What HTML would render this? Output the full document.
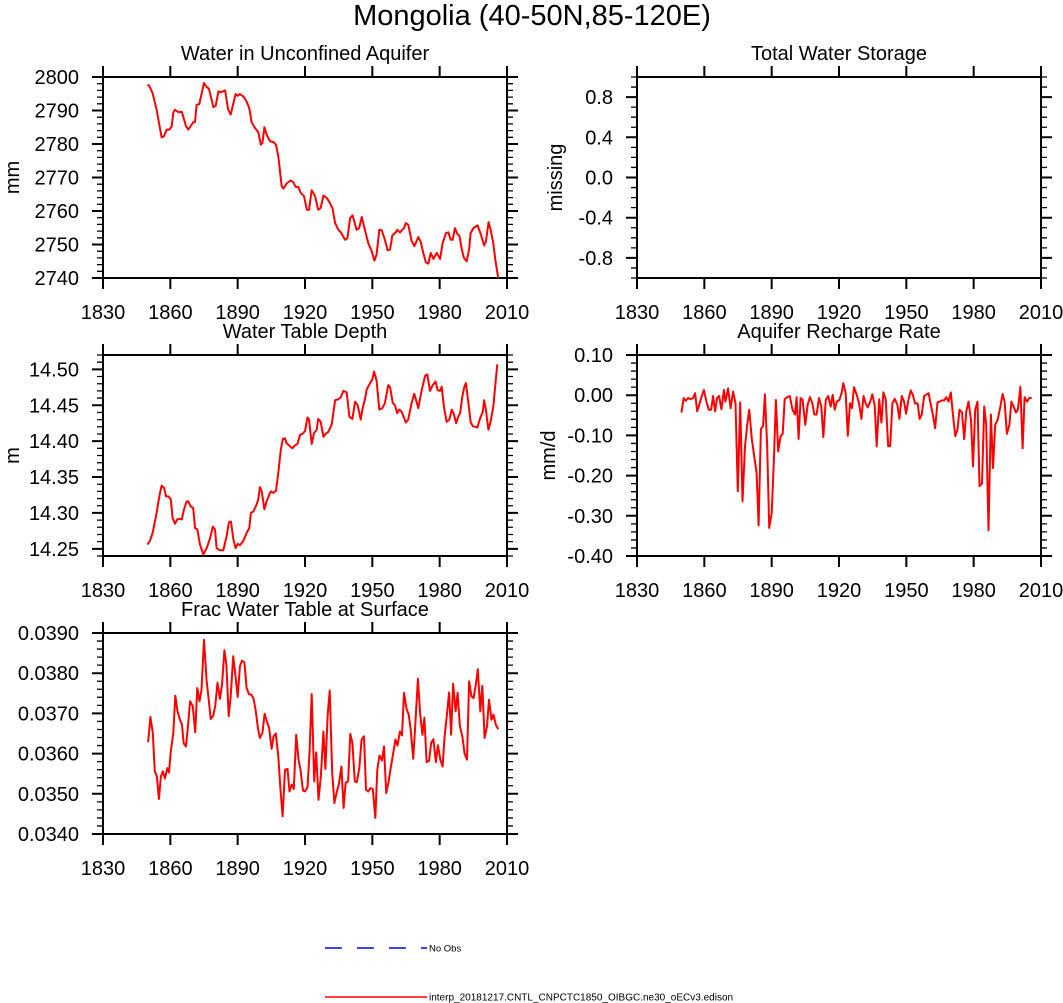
<!DOCTYPE html>
<html><head><meta charset="utf-8"><style>
html,body{margin:0;padding:0;background:#fff;width:1063px;height:1003px;overflow:hidden}
svg{display:block;font-family:"Liberation Sans",Arial,sans-serif}
</style></head><body>
<svg id="chart" width="1063" height="1003" viewBox="0 0 1063 1003" xmlns="http://www.w3.org/2000/svg">
<text x="532" y="25" font-size="29" text-anchor="middle">Mongolia (40-50N,85-120E)</text>
<g>
<line x1="325" y1="948" x2="427" y2="948" stroke="#0000ff" stroke-width="1.5" stroke-dasharray="17,15"/>
<text x="429" y="951.5" font-size="9.5">No Obs</text>
<line x1="325" y1="997" x2="427" y2="997" stroke="#ff0000" stroke-width="1.5"/>
<text x="429" y="1000.5" font-size="10">interp_20181217.CNTL_CNPCTC1850_OIBGC.ne30_oECv3.edison</text>
</g>
</svg>
<script>
// ---- data ----
const xTicks = [1830,1860,1890,1920,1950,1980,2010];

const aqYears = [1849.8,1850.6,1852.1,1853.9,1856.1,1857.2,1858.4,1859.6,1860.6,1861.3,1862.1,1863.6,1865.1,1867.0,1868.0,1869.5,1870.2,1871.0,1871.7,1872.9,1875.0,1876.2,1877.2,1879.2,1880.2,1881.4,1882.4,1884.4,1885.8,1886.9,1888.1,1889.1,1890.0,1891.0,1892.5,1894.0,1895.2,1896.2,1897.7,1899.2,1900.3,1901.0,1901.9,1902.9,1904.4,1905.9,1907.1,1908.1,1909.6,1910.4,1911.8,1913.6,1914.8,1915.8,1917.0,1918.1,1919.6,1920.8,1921.8,1923.0,1924.5,1925.9,1927.0,1928.2,1929.7,1931.1,1932.3,1933.4,1934.9,1935.9,1937.8,1938.9,1940.1,1941.2,1943.0,1944.1,1945.3,1946.7,1948.2,1949.7,1950.9,1951.9,1953.1,1954.2,1955.6,1956.8,1957.9,1958.9,1960.4,1961.1,1962.3,1964.1,1964.9,1966.0,1967.5,1968.7,1970.5,1971.5,1972.7,1973.8,1975.0,1976.0,1977.2,1978.7,1980.2,1981.3,1982.8,1983.9,1984.9,1985.8,1986.8,1987.9,1988.8,1989.8,1990.8,1992.0,1993.1,1993.8,1995.0,1996.9,1998.4,1999.8,2000.6,2001.8,2002.7,2003.9,2004.8,2006.1];
const aqValues = [2797.7,2797.4,2795.2,2790.2,2782.0,2782.3,2784.3,2784.3,2785.3,2789.3,2790.2,2789.5,2789.6,2785.3,2784.3,2785.8,2786.5,2786.5,2791.7,2791.9,2798.2,2797.0,2796.5,2791.0,2791.4,2795.7,2795.4,2796.0,2790.2,2788.8,2792.2,2794.9,2794.4,2794.9,2794.2,2792.7,2790.7,2786.5,2784.8,2783.5,2779.8,2780.3,2785.0,2782.8,2780.8,2780.6,2779.8,2776.3,2767.4,2766.7,2768.2,2769.1,2768.6,2767.2,2767.2,2765.4,2764.4,2760.4,2760.4,2766.2,2764.4,2760.4,2760.9,2764.6,2763.9,2762.4,2760.7,2756.4,2754.4,2753.7,2751.4,2751.9,2757.9,2758.7,2754.4,2754.9,2758.2,2754.4,2750.4,2748.0,2745.2,2747.0,2754.4,2754.2,2751.4,2748.3,2748.5,2752.7,2753.6,2754.4,2753.6,2754.9,2756.4,2755.9,2751.1,2749.5,2752.2,2750.9,2747.5,2744.7,2744.3,2747.5,2745.7,2747.5,2745.7,2750.4,2753.4,2753.6,2751.4,2751.4,2754.9,2753.1,2752.6,2748.7,2746.0,2745.0,2748.5,2753.4,2754.9,2755.7,2752.9,2749.7,2750.9,2756.7,2754.4,2750.4,2745.5,2740.0];

const wtdYears = [1849.8,1850.9,1852.1,1853.9,1855.1,1856.1,1857.2,1858.1,1859.1,1860.2,1861.0,1862.1,1863.1,1864.0,1865.1,1866.1,1867.3,1868.0,1869.1,1870.2,1871.0,1872.0,1873.2,1874.7,1876.2,1877.7,1878.9,1879.9,1880.6,1882.1,1883.6,1885.1,1886.1,1887.0,1888.1,1889.1,1890.0,1891.0,1892.5,1894.0,1895.2,1895.9,1897.0,1898.5,1899.2,1899.9,1900.7,1901.9,1902.9,1904.7,1905.9,1907.1,1908.1,1909.2,1910.1,1911.1,1911.8,1913.3,1914.4,1915.5,1916.6,1917.8,1918.8,1920.0,1921.1,1921.8,1923.0,1924.0,1925.2,1925.9,1927.0,1928.2,1929.2,1930.4,1931.9,1933.4,1934.6,1935.9,1937.1,1938.6,1939.8,1941.1,1942.3,1943.5,1944.8,1945.7,1946.7,1947.5,1949.0,1950.0,1950.8,1951.9,1953.1,1954.5,1955.6,1957.1,1957.9,1959.1,1960.1,1961.1,1962.0,1963.1,1963.8,1964.9,1966.0,1967.5,1968.7,1970.5,1972.0,1973.5,1974.5,1975.7,1976.9,1978.2,1979.1,1980.2,1980.9,1981.9,1983.1,1984.3,1985.4,1986.4,1987.3,1988.3,1989.1,1990.1,1991.0,1991.7,1992.8,1993.8,1994.7,1995.8,1996.8,1998.0,1999.2,1999.8,2000.6,2001.7,2002.7,2003.9,2004.8,2005.7];
const wtdValues = [14.256,14.261,14.272,14.300,14.323,14.338,14.335,14.323,14.323,14.319,14.293,14.285,14.291,14.292,14.291,14.305,14.316,14.316,14.309,14.307,14.279,14.277,14.256,14.242,14.251,14.265,14.281,14.277,14.251,14.248,14.248,14.268,14.287,14.288,14.263,14.251,14.257,14.255,14.261,14.272,14.279,14.300,14.302,14.312,14.319,14.336,14.330,14.305,14.316,14.330,14.328,14.331,14.356,14.388,14.403,14.404,14.397,14.393,14.390,14.394,14.396,14.409,14.410,14.414,14.433,14.430,14.396,14.411,14.416,14.431,14.427,14.406,14.410,14.413,14.423,14.457,14.458,14.461,14.470,14.468,14.434,14.431,14.455,14.450,14.430,14.446,14.458,14.472,14.481,14.486,14.497,14.484,14.444,14.446,14.453,14.478,14.475,14.453,14.450,14.439,14.444,14.441,14.435,14.426,14.430,14.453,14.466,14.446,14.471,14.491,14.493,14.470,14.478,14.483,14.471,14.470,14.476,14.448,14.427,14.430,14.444,14.437,14.425,14.434,14.439,14.462,14.476,14.481,14.453,14.427,14.421,14.420,14.419,14.432,14.441,14.457,14.444,14.416,14.427,14.448,14.478,14.507];

const rchYears = [1849.8,1850.8,1851.7,1852.8,1853.8,1855.0,1855.9,1856.8,1857.7,1858.7,1859.8,1860.9,1862.0,1863.0,1863.9,1864.8,1865.7,1866.6,1867.6,1868.7,1869.4,1870.6,1871.7,1872.8,1873.9,1874.9,1876.0,1877.0,1878.1,1879.1,1880.0,1881.2,1882.2,1883.3,1884.2,1885.2,1886.2,1887.0,1888.0,1888.9,1890.0,1891.0,1891.9,1892.9,1894.0,1894.9,1895.8,1896.9,1898.1,1899.3,1900.4,1901.1,1902.0,1902.9,1903.8,1905.0,1906.0,1907.1,1908.1,1909.0,1910.0,1911.1,1912.1,1913.0,1914.1,1915.2,1916.3,1917.2,1918.1,1919.0,1920.2,1921.2,1921.9,1923.0,1923.9,1924.9,1925.8,1926.7,1927.9,1928.9,1930.0,1930.9,1931.9,1932.8,1933.8,1934.9,1935.9,1936.8,1937.9,1938.9,1939.8,1940.8,1941.9,1942.8,1943.8,1944.8,1946.0,1946.9,1948.0,1949.0,1949.9,1950.9,1952.0,1952.9,1953.9,1955.0,1955.9,1956.9,1957.9,1958.8,1959.9,1960.9,1961.8,1962.8,1963.9,1964.8,1965.8,1966.9,1967.8,1968.8,1969.8,1970.7,1971.8,1972.8,1973.7,1974.8,1975.8,1976.7,1977.7,1978.8,1979.7,1980.7,1981.7,1982.6,1983.7,1984.7,1985.6,1986.6,1987.7,1988.6,1989.6,1990.7,1991.9,1992.9,1993.8,1994.8,1995.9,1996.8,1997.8,1998.8,1999.7,2000.8,2001.8,2002.7,2003.8,2004.8,2005.8];
const rchValues = [-0.043,-0.007,-0.014,-0.007,-0.010,-0.007,0.005,-0.040,-0.024,-0.005,0.013,-0.016,-0.036,-0.036,-0.002,-0.040,-0.007,-0.002,-0.035,0.013,-0.016,0.017,-0.032,0.009,-0.020,-0.239,-0.018,-0.264,-0.127,-0.074,-0.036,-0.111,-0.152,-0.193,-0.324,-0.084,-0.076,0.002,-0.127,-0.330,-0.293,-0.160,-0.012,-0.140,-0.102,-0.096,-0.010,-0.005,-0.002,-0.036,-0.048,-0.005,-0.109,-0.007,-0.012,-0.074,-0.024,-0.005,-0.020,-0.048,-0.048,-0.007,-0.028,-0.104,-0.012,-0.002,-0.028,0.001,-0.036,-0.016,-0.012,0.007,0.030,0.005,-0.101,-0.020,-0.032,0.020,0.001,-0.020,-0.059,-0.002,-0.021,-0.030,-0.018,0.002,-0.026,-0.127,-0.010,-0.068,0.007,-0.010,-0.127,-0.126,-0.020,-0.009,-0.024,-0.059,-0.002,-0.016,-0.046,-0.012,0.012,0.001,-0.021,-0.020,-0.059,-0.048,-0.002,0.001,0.005,-0.024,-0.048,-0.082,-0.018,-0.016,-0.013,-0.013,-0.005,-0.016,0.007,-0.046,-0.102,-0.085,-0.036,-0.043,-0.109,-0.040,-0.016,-0.061,-0.177,-0.036,-0.016,-0.226,-0.220,-0.028,-0.074,-0.336,-0.048,-0.181,-0.074,-0.061,-0.028,0.003,-0.016,-0.096,-0.074,-0.016,-0.028,-0.043,-0.036,0.021,-0.132,-0.005,-0.016,-0.007,-0.007];

const fwtYears = [1850.1,1851.1,1852.2,1853.1,1854.0,1854.9,1855.8,1856.7,1857.6,1858.7,1859.4,1860.2,1861.3,1862.2,1863.2,1864.3,1865.2,1865.9,1867.0,1867.9,1868.8,1870.0,1871.1,1872.0,1873.0,1873.9,1875.0,1876.1,1877.1,1878.0,1879.1,1880.0,1881.0,1882.1,1883.0,1884.1,1885.0,1886.0,1886.9,1888.0,1888.9,1890.0,1891.0,1891.9,1893.0,1894.0,1895.1,1896.0,1897.0,1898.0,1899.0,1899.9,1901.0,1902.0,1903.1,1904.0,1905.1,1906.0,1907.0,1908.1,1909.1,1910.0,1911.1,1912.2,1913.1,1914.1,1915.0,1916.1,1917.1,1918.0,1919.1,1920.0,1921.1,1922.0,1923.0,1924.1,1925.0,1926.0,1927.1,1928.2,1929.1,1930.1,1931.0,1932.1,1933.1,1934.2,1935.1,1936.2,1937.2,1938.1,1939.2,1940.2,1941.1,1942.2,1943.1,1944.2,1945.2,1946.3,1947.2,1948.2,1949.1,1950.2,1951.3,1952.2,1953.2,1954.3,1955.2,1956.2,1957.3,1958.2,1959.3,1960.3,1961.2,1962.3,1963.2,1964.1,1965.2,1966.2,1967.1,1968.2,1969.2,1970.3,1971.3,1972.3,1973.2,1974.2,1975.3,1976.2,1977.2,1978.3,1979.2,1980.3,1981.3,1982.2,1983.3,1984.2,1985.1,1986.0,1987.1,1988.0,1989.0,1990.1,1991.1,1992.2,1993.1,1994.2,1995.1,1996.1,1997.0,1998.1,1999.0,2000.0,2001.1,2002.0,2003.1,2004.0,2005.0,2006.1];
const fwtValues = [0.03628,0.03691,0.03651,0.03556,0.03543,0.03487,0.03543,0.03556,0.03538,0.03564,0.03553,0.03606,0.03651,0.03744,0.03705,0.03684,0.03672,0.03626,0.03618,0.03672,0.03730,0.03718,0.03653,0.03763,0.03730,0.03759,0.03883,0.03784,0.03734,0.03686,0.03694,0.03718,0.03776,0.03736,0.03771,0.03857,0.03821,0.03693,0.03742,0.03842,0.03800,0.03741,0.03817,0.03831,0.03827,0.03763,0.03747,0.03747,0.03738,0.03709,0.03664,0.03639,0.03651,0.03699,0.03678,0.03664,0.03612,0.03643,0.03650,0.03593,0.03510,0.03444,0.03560,0.03562,0.03506,0.03523,0.03512,0.03647,0.03585,0.03560,0.03508,0.03506,0.03516,0.03601,0.03748,0.03531,0.03603,0.03485,0.03545,0.03655,0.03562,0.03697,0.03757,0.03552,0.03477,0.03506,0.03524,0.03568,0.03465,0.03527,0.03531,0.03649,0.03626,0.03531,0.03529,0.03564,0.03635,0.03643,0.03510,0.03506,0.03514,0.03512,0.03440,0.03560,0.03595,0.03583,0.03618,0.03502,0.03531,0.03564,0.03601,0.03635,0.03620,0.03655,0.03645,0.03751,0.03713,0.03697,0.03660,0.03587,0.03676,0.03786,0.03701,0.03647,0.03689,0.03579,0.03582,0.03626,0.03636,0.03579,0.03621,0.03585,0.03568,0.03643,0.03701,0.03752,0.03647,0.03774,0.03705,0.03751,0.03668,0.03643,0.03600,0.03585,0.03780,0.03742,0.03738,0.03771,0.03810,0.03705,0.03769,0.03639,0.03668,0.03734,0.03684,0.03697,0.03672,0.03661];

const aqTicks = [2740,2750,2760,2770,2780,2790,2800];
const twsTicks = [-0.8,-0.4,0.0,0.4,0.8];
const wtdTicks = [14.25,14.30,14.35,14.40,14.45,14.50];
const rchTicks = [-0.40,-0.30,-0.20,-0.10,0.00,0.10];
const fwtTicks = [0.0340,0.0350,0.0360,0.0370,0.0380,0.0390];

// ---- drawing ----
const NS = 'http://www.w3.org/2000/svg';
const svg = document.getElementById('chart');
function mk(tag, attrs, parent) {
  const e = document.createElementNS(NS, tag);
  for (const k in attrs) e.setAttribute(k, attrs[k]);
  (parent || svg).appendChild(e);
  return e;
}
const W = 404, H = 201, X0 = 1830, X1 = 2010;

function panel(o) {
  const g = mk('g', {});
  
  
  const xs = v => o.x + (v - X0) / (X1 - X0) * W;
  const ys = v => o.y + (o.yMax - v) / (o.yMax - o.yMin) * H;

  const t = mk('text', {x: o.x + W / 2, y: o.y - 17, 'font-size': 20, 'text-anchor': 'middle'}, g);
  t.textContent = o.title;
  
  

  const yt = mk('text', {x: 0, y: 0, 'font-size': 20, 'text-anchor': 'middle', transform: `translate(${o.ylx},${o.y + H / 2}) rotate(-90)`}, g);
  yt.textContent = o.ylabel;
  
  

  xTicks.forEach(v => {
    const px = xs(v);
    const tk = mk('path', {d: `M${px},${o.y} v-11 M${px},${o.y + H} v11`, stroke: '#000', 'stroke-width': 2}, g);
    
    
    const lb = mk('text', {x: px, y: o.y + H + 41, 'font-size': 20, 'text-anchor': 'middle'}, g);
    lb.textContent = v;
    
    
  });
  const nMin = Math.round((o.yMax - o.yMin) / o.minor);
  for (let i = 0; i <= nMin; i++) {
    const v = o.yMin + i * o.minor;
    const py = ys(v);
    const mt = mk('path', {d: `M${o.x},${py} h-6 M${o.x + W},${py} h6`, stroke: '#000', 'stroke-width': 1.3}, g);
    
    
  }
  o.ticks.forEach(v => {
    const py = ys(v);
    const tk = mk('path', {d: `M${o.x},${py} h-11 M${o.x + W},${py} h11`, stroke: '#000', 'stroke-width': 2}, g);
    
    
    const lb = mk('text', {x: o.x - 24, y: py + 7, 'font-size': 20, 'text-anchor': 'end'}, g);
    lb.textContent = o.fmt(v);
    
    
  });
  const fr = mk('rect', {x: o.x, y: o.y, width: W, height: H, fill: 'none', stroke: '#000', 'stroke-width': 2}, g);
  
  

  if (o.years) {
    const clipId = 'c' + o.name;
    const cp = mk('clipPath', {id: clipId}, g);
    mk('rect', {x: o.x, y: o.y, width: W, height: H}, cp);
    const d = o.years.map((yr, i) => (i ? 'L' : 'M') + xs(yr).toFixed(1) + ',' + ys(o.values[i]).toFixed(1)).join(' ');
    const ln = mk('path', {d, fill: 'none', stroke: '#ff0000', 'stroke-width': 2, 'stroke-linejoin': 'round', 'clip-path': `url(#${clipId})`}, g);
    
    
  }
}

panel({name: 'panel-unconfined-aquifer', title: 'Water in Unconfined Aquifer', ylabel: 'mm', ylx: 19, x: 103, y: 77,
  yMin: 2740, yMax: 2800, minor: 2, ticks: aqTicks, fmt: v => String(v), years: aqYears, values: aqValues});
panel({name: 'panel-total-water-storage', title: 'Total Water Storage', ylabel: 'missing', ylx: 562, x: 637, y: 77,
  yMin: -1, yMax: 1, minor: 0.1, ticks: twsTicks, fmt: v => v.toFixed(1)});
panel({name: 'panel-water-table-depth', title: 'Water Table Depth', ylabel: 'm', ylx: 19, x: 103, y: 355,
  yMin: 14.24, yMax: 14.52, minor: 0.01, ticks: wtdTicks, fmt: v => v.toFixed(2), years: wtdYears, values: wtdValues});
panel({name: 'panel-aquifer-recharge', title: 'Aquifer Recharge Rate', ylabel: 'mm/d', ylx: 555, x: 637, y: 355,
  yMin: -0.40, yMax: 0.10, minor: 0.02, ticks: rchTicks, fmt: v => v.toFixed(2), years: rchYears, values: rchValues});
panel({name: 'panel-frac-water-table', title: 'Frac Water Table at Surface', ylabel: 'unitless', ylx: -9, x: 103, y: 633,
  yMin: 0.0340, yMax: 0.0390, minor: 0.0002, ticks: fwtTicks, fmt: v => v.toFixed(4), years: fwtYears, values: fwtValues});
</script>
</body></html>
